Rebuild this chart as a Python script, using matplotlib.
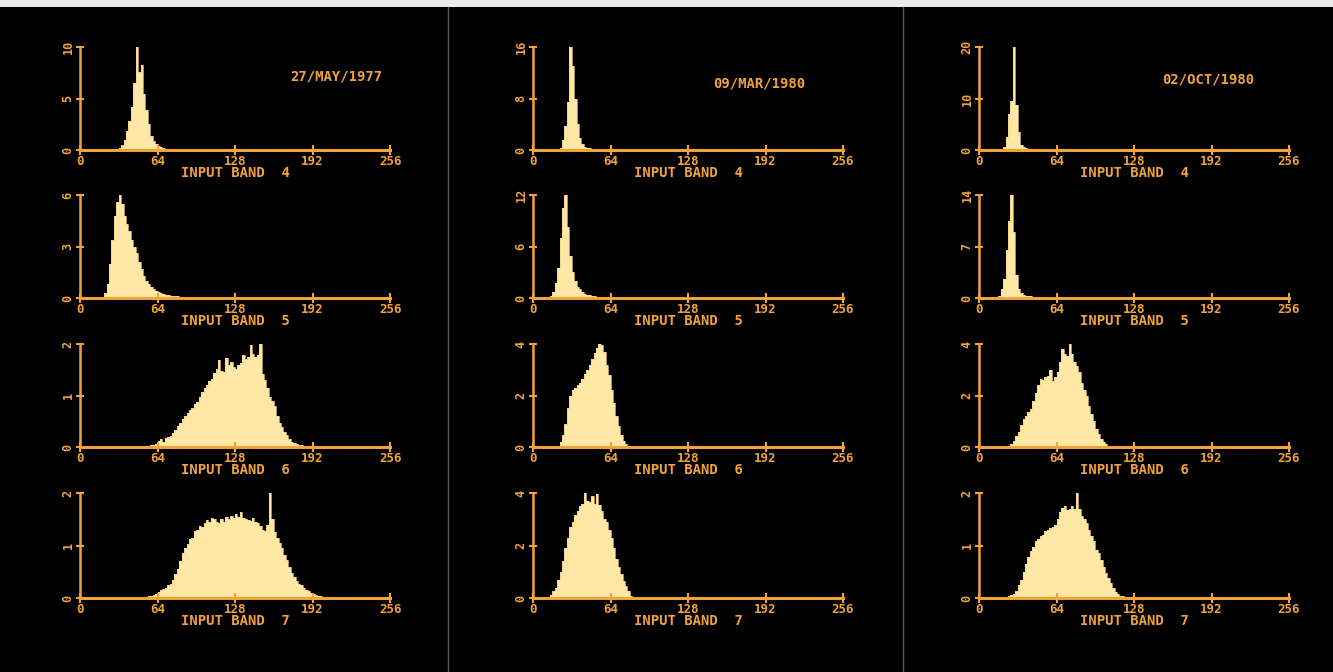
import matplotlib.pyplot as plt
import numpy as np
from matplotlib.patches import Rectangle

# fechas de cada columna
fechas = ["27/MAY/1977", "09/MAR/1980", "02/OCT/1980"]
bandas = [4, 5, 6, 7]
xticks = [0, 64, 128, 192, 256]

# maximo del eje y (0, medio, maximo)
ymax = [
    [10, 6, 2, 2],
    [16, 12, 4, 4],
    [20, 14, 4, 2],
]

ANCHO = 2  # ancho de cada barra (niveles digitales)

h77_b4 = (30, [0.05, 0.15, 0.5, 1.0, 1.8, 2.8, 4.2, 6.5, 10.0, 7.6, 8.3, 5.4, 3.9, 2.5,
               1.4, 0.9, 0.55, 0.4, 0.3, 0.2, 0.12, 0.08, 0.05, 0.03])
h77_b5 = (18, [0.05, 0.3, 0.8, 2.0, 3.4, 4.8, 5.6, 6.0, 5.5, 4.8, 4.3, 3.9, 3.4, 3.0, 2.6,
               2.1, 1.7, 1.3, 1.0, 0.8, 0.65, 0.5, 0.42, 0.35, 0.3, 0.25, 0.2, 0.16, 0.13,
               0.11, 0.1, 0.09, 0.08, 0.07, 0.07, 0.06, 0.05, 0.05, 0.05, 0.04, 0.04, 0.04,
               0.03, 0.03, 0.03, 0.03, 0.03, 0.02, 0.03, 0.02, 0.02, 0.03, 0.02, 0.02, 0.02,
               0.02, 0.01, 0.02, 0.01, 0.01, 0.02, 0.01, 0.01, 0.01, 0.01, 0.01])
h77_b6 = (50, [0.01, 0.01, 0.02, 0.02, 0.03, 0.04, 0.06, 0.12, 0.15, 0.1, 0.18, 0.2, 0.22,
               0.28, 0.33, 0.4, 0.46, 0.54, 0.6, 0.66, 0.72, 0.76, 0.84, 0.88, 0.98, 1.06,
               1.14, 1.2, 1.28, 1.32, 1.44, 1.52, 1.69, 1.48, 1.46, 1.72, 1.6, 1.66, 1.55,
               1.52, 1.6, 1.64, 1.79, 1.7, 1.74, 1.98, 1.8, 1.75, 1.78, 2.0, 1.42, 1.3, 1.15,
               0.97, 0.9, 0.79, 0.6, 0.46, 0.38, 0.3, 0.24, 0.15, 0.1, 0.07, 0.05, 0.04,
               0.03, 0.02, 0.02, 0.01, 0.01, 0.01])
h77_b7 = (54, [0.02, 0.03, 0.04, 0.06, 0.08, 0.12, 0.16, 0.18, 0.2, 0.24, 0.27, 0.34, 0.45,
               0.56, 0.7, 0.86, 0.95, 1.02, 1.12, 1.15, 1.28, 1.3, 1.38, 1.36, 1.42, 1.48,
               1.44, 1.52, 1.5, 1.45, 1.42, 1.5, 1.44, 1.54, 1.5, 1.56, 1.52, 1.6, 1.55,
               1.63, 1.52, 1.5, 1.49, 1.46, 1.53, 1.45, 1.42, 1.38, 1.3, 1.27, 1.4, 2.0, 1.5,
               1.25, 1.15, 1.05, 0.95, 0.82, 0.73, 0.6, 0.48, 0.4, 0.33, 0.27, 0.24, 0.2,
               0.16, 0.13, 0.1, 0.08, 0.06, 0.04, 0.03, 0.02])

h80m_b4 = (20, [0.05, 0.3, 1.5, 3.8, 7.5, 16.0, 13.0, 8.0, 4.0, 1.8, 0.9, 0.5, 0.35, 0.25,
                0.18, 0.12, 0.08, 0.05])
h80m_b5 = (12, [0.05, 0.2, 0.7, 1.8, 3.5, 7.0, 10.5, 12.0, 8.3, 4.9, 3.0, 2.0, 1.3, 1.0, 0.7,
                0.5, 0.4, 0.3, 0.25, 0.2, 0.15, 0.1, 0.08, 0.06, 0.05, 0.04])
h80m_b6 = (20, [0.05, 0.2, 0.45, 0.9, 1.5, 2.0, 2.2, 2.3, 2.4, 2.5, 2.65, 2.85, 3.0, 3.2, 3.4,
                3.65, 3.85, 4.0, 3.95, 3.7, 3.2, 2.8, 2.2, 1.7, 1.2, 0.8, 0.45, 0.25, 0.1,
                0.05, 0.02])
h80m_b7 = (12, [0.05, 0.12, 0.25, 0.4, 0.7, 1.0, 1.4, 1.9, 2.3, 2.7, 2.9, 3.15, 3.3, 3.5, 3.6,
                4.0, 3.7, 3.65, 3.9, 3.6, 3.95, 3.55, 3.3, 3.0, 2.9, 2.6, 2.3, 1.9, 1.5, 1.2,
                0.9, 0.65, 0.45, 0.25, 0.08, 0.04, 0.03, 0.02, 0.02, 0.02])

h80o_b4 = (18, [0.05, 0.5, 2.5, 7.0, 9.6, 20.0, 8.7, 3.5, 1.0, 0.5, 0.3, 0.2, 0.12, 0.08, 0.05])
h80o_b5 = (14, [0.05, 0.3, 1.2, 2.6, 6.5, 10.4, 14.0, 9.0, 3.1, 1.2, 0.7, 0.45, 0.3, 0.25,
                0.22, 0.2, 0.18, 0.16, 0.14, 0.13, 0.12, 0.1, 0.1, 0.08, 0.06, 0.05])
h80o_b6 = (24, [0.05, 0.12, 0.25, 0.42, 0.6, 0.85, 1.07, 1.2, 1.35, 1.46, 1.8, 2.1, 2.4, 2.63,
                2.6, 2.7, 2.75, 3.0, 2.57, 2.7, 2.9, 3.3, 3.8, 3.6, 3.54, 4.0, 3.6, 3.3, 3.15,
                2.9, 2.5, 2.2, 1.98, 1.6, 1.3, 1.0, 0.7, 0.5, 0.3, 0.2, 0.1, 0.05, 0.02])
h80o_b7 = (22, [0.02, 0.03, 0.05, 0.08, 0.14, 0.24, 0.35, 0.5, 0.65, 0.78, 0.89, 0.98, 1.08,
                1.12, 1.18, 1.2, 1.27, 1.3, 1.34, 1.36, 1.4, 1.5, 1.63, 1.72, 1.76, 1.67, 1.7,
                1.76, 1.7, 2.0, 1.7, 1.56, 1.5, 1.43, 1.3, 1.18, 1.08, 0.92, 0.85, 0.73, 0.6,
                0.47, 0.38, 0.28, 0.2, 0.12, 0.07, 0.04, 0.03, 0.02])

histogramas = [
    [h77_b4, h77_b5, h77_b6, h77_b7],
    [h80m_b4, h80m_b5, h80m_b6, h80m_b7],
    [h80o_b4, h80o_b5, h80o_b6, h80o_b7],
]

NARANJA = "#f2a23a"
RELLENO = "#ffe7a6"
W, H = 1333, 672


def graficar_histogramas():
    fig = plt.figure(figsize=(13.33, 6.72), dpi=100, facecolor="black")

    # posiciones en pixeles de los ejes
    izq = [80, 533, 979]
    arriba = [47, 195, 344, 493]
    base = [150, 298, 447, 598]
    ancho_px = 310
    # donde va la fecha (fraccion del eje)
    pos_fecha = [(0.826, 0.71), (0.73, 0.65), (0.74, 0.68)]

    for c in range(3):
        for r in range(4):
            ax = fig.add_axes([izq[c] / W, 1 - base[r] / H,
                               ancho_px / W, (base[r] - arriba[r]) / H])
            ax.set_facecolor("black")

            inicio, valores = histogramas[c][r]
            bordes = inicio + ANCHO * np.arange(len(valores) + 1)
            ax.stairs(valores, bordes, fill=True, color=RELLENO, lw=0)
            ax.stairs(valores, bordes, color="#f8cf80", lw=0.5)

            m = ymax[c][r]
            ax.set_xlim(0, 256)
            ax.set_ylim(0, m)
            ax.set_xticks(xticks)
            ax.set_xticklabels([str(t) for t in xticks])
            ax.set_yticks([0, m / 2, m])
            ax.set_yticklabels(["0", f"{m // 2}", f"{m}"], rotation=90, va="center")

            for s in ["top", "right"]:
                ax.spines[s].set_visible(False)
            ax.spines["bottom"].set_color(NARANJA)
            ax.spines["bottom"].set_linewidth(2.2)
            ax.spines["left"].set_color(NARANJA)
            ax.spines["left"].set_linewidth(1.8)
            ax.tick_params(axis="x", direction="inout", length=7, width=1.5,
                           colors=NARANJA, pad=0, labelsize=9)
            ax.tick_params(axis="y", direction="inout", length=6, width=1.5,
                           colors=NARANJA, pad=1, labelsize=8.5)
            for t in ax.get_xticklabels() + ax.get_yticklabels():
                t.set_fontfamily("DejaVu Sans Mono")
                t.set_fontweight("bold")

            ax.set_xlabel(f"INPUT BAND  {bandas[r]}", color=NARANJA, fontsize=10,
                          fontfamily="DejaVu Sans Mono", fontweight="bold", labelpad=-1)

            if r == 0:
                fx, fy = pos_fecha[c]
                ax.text(fx, fy, fechas[c], transform=ax.transAxes, color=NARANJA,
                        fontsize=10, fontfamily="DejaVu Sans Mono", fontweight="bold",
                        ha="center", va="center")

    # borde blanco arriba y separadores de las fotos
    fig.add_artist(Rectangle((0, 1 - 7 / H), 1, 7 / H, transform=fig.transFigure,
                             color="#ececec", lw=0))
    for xs in [448, 903]:
        fig.add_artist(plt.Line2D([xs / W, xs / W], [0, 1 - 7 / H],
                                  transform=fig.transFigure, color="#5a5a5a", lw=1))

    plt.savefig("out.png", dpi=100, facecolor="black")


if __name__ == "__main__":
    graficar_histogramas()
